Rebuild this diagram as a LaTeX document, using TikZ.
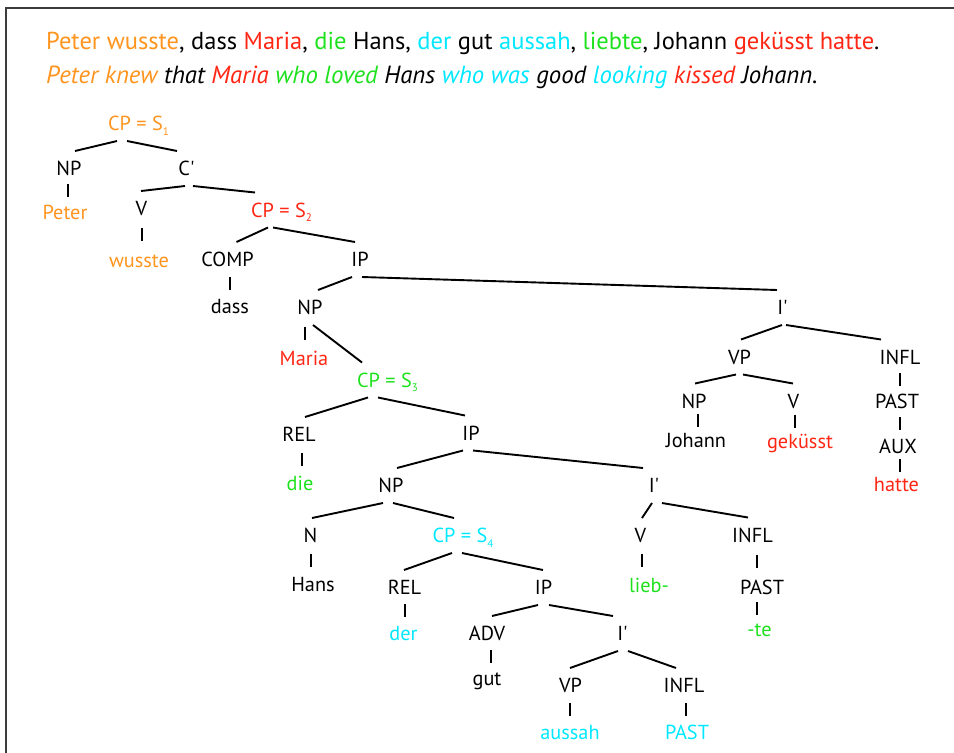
\documentclass[tikz,border=0pt]{standalone}
\usepackage{fontspec}
\setmainfont{PT Sans}
\usetikzlibrary{calc}
\definecolor{cOr}{RGB}{255,148,30}
\definecolor{cRd}{RGB}{255,38,20}
\definecolor{cGn}{RGB}{30,225,30}
\definecolor{cCy}{RGB}{0,232,255}
\definecolor{cFrame}{RGB}{60,60,60}
\newcommand\tsub[1]{\raisebox{-4.5pt}{\fontsize{11}{12}\selectfont #1}}
\newcommand\tedge[4]{\draw[tline] ([xshift=#2pt]#1.south) -- ([xshift=#4pt]#3.north);}
\newcommand\tbar[3]{\draw[tline] ($(#1.center)!0.5!(#2.center)+(#3,-6.5)$) -- ++(0,13);}
\begin{document}
\begin{tikzpicture}[x=1pt,y=-1pt,
  lab/.style={font=\fontsize{20.3}{24}\selectfont, inner sep=0pt, outer xsep=0pt, outer ysep=10.5pt, text height=14pt, text depth=0pt, anchor=center},
  hdr/.style={font=\fontsize{24.5}{28}\selectfont, inner sep=0pt, anchor=base west},
  tline/.style={line width=1.9pt, line cap=butt},
  frame/.style={line width=2pt, draw=cFrame}]
\useasboundingbox (0,0) rectangle (954,753);
\draw[frame] (5.5,770) -- (5.5,8.3) -- (970,8.3);
% header
\node[hdr] (l1) at (46,49.5) {\textcolor{cOr}{Peter wusste}, dass \textcolor{cRd}{Maria}, \textcolor{cGn}{die} Hans, \textcolor{cCy}{der} gut \textcolor{cCy}{aussah}, \textcolor{cGn}{liebte}, Johann \textcolor{cRd}{geküsst hatte}.};
\node[hdr, font=\fontsize{24.8}{28}\selectfont] (l2) at (46,83) {\itshape\textcolor{cOr}{Peter knew} that \textcolor{cRd}{Maria} \textcolor{cGn}{who loved} Hans \textcolor{cCy}{who was} good \textcolor{cCy}{looking} \textcolor{cRd}{kissed} Johann.};
% tree nodes
\node[lab, text=cOr] (cpA) at (138.5,123.5) {CP = S\tsub{1}};
\node[lab] (npA) at (69,168.5) {NP};
\node[lab, text=cOr] (peter) at (65,212) {Peter};
\node[lab] (cbar) at (186.5,168.5) {C\textquotesingle};
\node[lab] (vA) at (141.5,208.5) {V};
\node[lab, text=cOr] (wusste) at (139,260.5) {wusste};
\node[lab, text=cRd] (cpB) at (281.5,210) {CP = S\tsub{2}};
\node[lab] (comp) at (227.5,259.5) {COMP};
\node[lab] (dass) at (230,306.5) {dass};
\node[lab] (ipA) at (360,259.5) {IP};
\node[lab] (npB) at (310,307.5) {NP};
\node[lab, text=cRd] (maria) at (304,358.5) {Maria};
\node[lab, text=cGn] (cpC) at (387.5,380) {CP = S\tsub{3}};
\node[lab] (relA) at (299,434.5) {REL};
\node[lab, text=cGn] (die) at (300,483.5) {die};
\node[lab] (ipB) at (471,433) {IP};
\node[lab] (npC) at (391,485.5) {NP};
\node[lab] (nA) at (310.5,535.5) {N};
\node[lab] (hans) at (313,584.5) {Hans};
\node[lab, text=cCy] (cpD) at (463,535.5) {CP = S\tsub{4}};
\node[lab] (relB) at (404.5,587.5) {REL};
\node[lab, text=cCy] (der) at (403.5,633.5) {der};
\node[lab] (ipC) at (543.5,587.5) {IP};
\node[lab] (adv) at (487,633.5) {ADV};
\node[lab] (gut) at (487,678.5) {gut};
\node[lab] (ibA) at (622.5,633.5) {I\textquotesingle};
\node[lab] (vpA) at (570.5,685.5) {VP};
\node[lab, text=cCy] (aussah) at (570,732.5) {aussah};
\node[lab] (inflA) at (684,685.5) {INFL};
\node[lab, text=cCy] (pastA) at (687,732.5) {PAST};
\node[lab] (ibB) at (654,485.5) {I\textquotesingle};
\node[lab] (vB) at (640.5,535.5) {V};
\node[lab, text=cGn] (lieb) at (649,585.5) {lieb-};
\node[lab] (inflB) at (752.5,535) {INFL};
\node[lab] (pastB) at (762,587) {PAST};
\node[lab, text=cGn] (te) at (759.5,629.5) {-te};
\node[lab] (ibC) at (782.5,307.5) {I\textquotesingle};
\node[lab] (vpB) at (739.5,357) {VP};
\node[lab] (inflC) at (900,357) {INFL};
\node[lab] (npD) at (694,401) {NP};
\node[lab] (vC) at (793.5,401) {V};
\node[lab] (pastC) at (897,401) {PAST};
\node[lab] (johann) at (696,440.5) {Johann};
\node[lab, text=cRd] (gekuesst) at (800,441.5) {geküsst};
\node[lab] (aux) at (898,446.5) {AUX};
\node[lab, text=cRd] (hatte) at (896.5,484.5) {hatte};
% branches
\tedge{cpA}{-21.5}{npA}{6}
\tedge{cpA}{-11.5}{cbar}{-9.5}
\tbar{npA}{peter}{1}
\tedge{cbar}{-1.5}{vA}{-0.5}
\tedge{cbar}{6.5}{cpB}{-26.5}
\tbar{vA}{wusste}{1.75}
\tedge{cpB}{-13.5}{comp}{9}
\tedge{cpB}{-8.5}{ipA}{-5}
\tbar{comp}{dass}{1.25}
\tedge{ipA}{-8}{npB}{8}
\tedge{ipA}{2}{ibC}{-5.5}
\tbar{npB}{maria}{-2}
\tedge{npB}{3}{cpC}{-25.5}
\tedge{cpC}{-19.5}{relA}{6}
\tedge{cpC}{-9.5}{ipB}{-6}
\tbar{relA}{die}{2.5}
\tedge{ipB}{-8}{npC}{6}
\tedge{ipB}{2}{ibB}{-11}
\tedge{npC}{-8}{nA}{1.5}
\tedge{npC}{2}{cpD}{-9}
\tbar{nA}{hans}{-0.75}
\tedge{cpD}{-11}{relB}{-0.5}
\tedge{cpD}{-1}{ipC}{-0.5}
\tbar{relB}{der}{1}
\tedge{ipC}{-5.5}{adv}{5}
\tedge{ipC}{5.5}{ibA}{-9.5}
\tbar{adv}{gut}{4}
\tedge{ibA}{-4.5}{vpA}{-0.5}
\tedge{ibA}{5.5}{inflA}{-8}
\tbar{vpA}{aussah}{0}
\tbar{inflA}{pastA}{0.5}
\tedge{ibB}{-2}{vB}{1.5}
\tedge{ibB}{8}{inflB}{-4.5}
\tbar{vB}{lieb}{-2.75}
\tbar{inflB}{pastB}{0}
\tbar{pastB}{te}{-3.75}
\tedge{ibC}{-0.5}{vpB}{1.5}
\tedge{ibC}{3.5}{inflC}{-19}
\tedge{vpB}{-3.5}{npD}{1}
\tedge{vpB}{3.5}{vC}{-0.5}
\tbar{npD}{johann}{3}
\tbar{vC}{gekuesst}{-1.75}
\tbar{inflC}{pastC}{1.5}
\tbar{pastC}{aux}{2.5}
\tbar{aux}{hatte}{2.75}
\end{tikzpicture}
\end{document}
